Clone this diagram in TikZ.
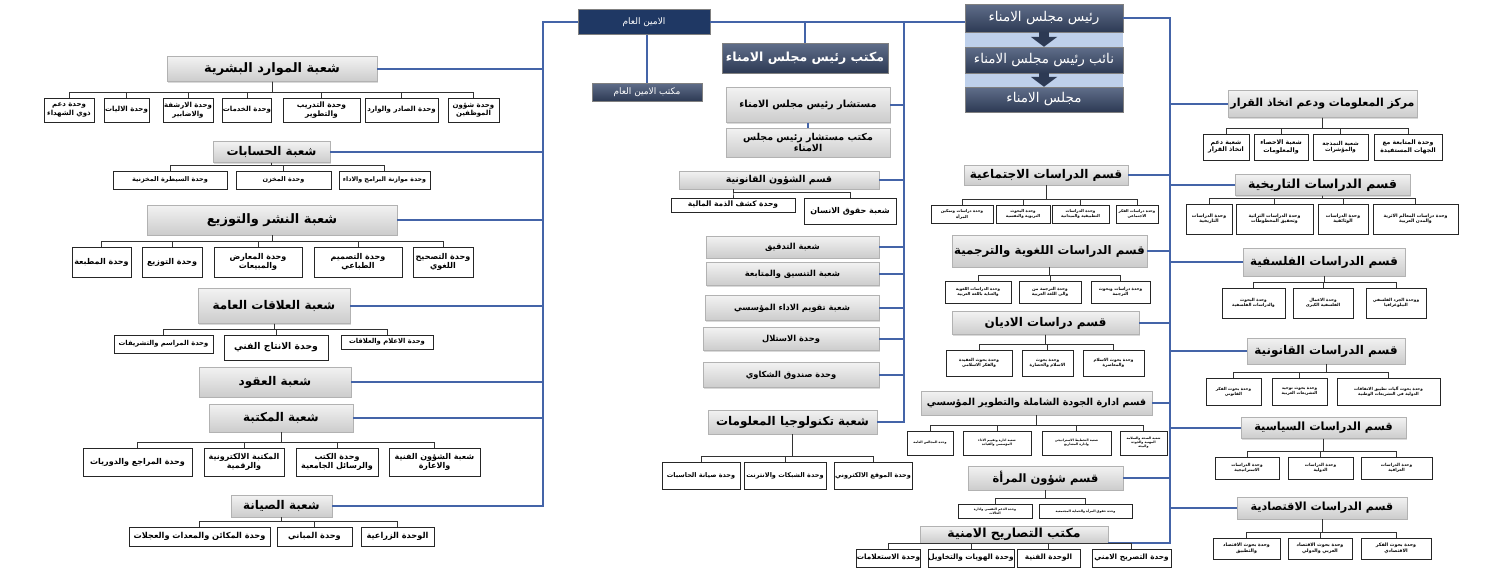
\documentclass[tikz,border=0pt]{standalone}
\usepackage{fontspec}
\usepackage{tikz}
\usetikzlibrary{arrows.meta,shadows}
\newfontfamily\arabicfont[Script=Arabic]{DejaVu Sans}
\TeXXeTstate=1
\newcommand{\rl}[1]{\beginR#1\endR}
\newcommand{\fz}[1]{\fontsize{#1}{\dimexpr#1pt*6/5\relax}\selectfont}
\definecolor{aminnavy}{RGB}{31,56,100}
\definecolor{slatetop}{RGB}{96,110,138}
\definecolor{slatebot}{RGB}{45,58,84}
\definecolor{stackbg}{RGB}{190,208,235}
\definecolor{linkblue}{RGB}{68,100,168}

\begin{document}
\begin{tikzpicture}[x=1pt,y=-1pt,
  hdr/.style={draw=gray!60,top color=gray!10,bottom color=gray!40,inner sep=0.5pt,align=center,
    drop shadow={opacity=0.3,shadow xshift=1.2pt,shadow yshift=-1.2pt}},
  unit/.style={draw=black!85,fill=white,line width=0.5pt,inner sep=0.5pt,align=center},
  dark/.style={draw=black!50,top color=slatetop,bottom color=slatebot,text=white,inner sep=0.5pt,align=center},
  sz/.style 2 args={minimum width=#1pt,minimum height=#2pt},
  fb/.style={font=\arabicfont\bfseries\fz{#1}},
  fn/.style={font=\arabicfont\fz{#1}},
  link/.style={draw=linkblue,line width=2pt},
  tree/.style={draw=black!80,line width=0.6pt},
  branch/.style={to path={|- ([yshift=5pt]\tikztotarget) -- (\tikztotarget) \tikztonodes}},
  pushdown/.style={draw=slatebot,line width=10pt,-{Triangle[length=10pt,width=26pt]}}]
\useasboundingbox (0,0) rectangle (1500,576);

\fill[stackbg] (965,4) rectangle (1123,112);

\node[draw=black!50,fill=aminnavy,text=white,fn=9,sz={132}{25}] (amin) at (644,22) {\rl{الامين العام}};
\node[dark,fn=9,sz={110}{18}] (aminoff) at (647,92) {\rl{مكتب الامين العام}};
\node[dark,fb=12.5,sz={166}{30}] (chairoff) at (805,58) {\rl{مكتب رئيس مجلس الامناء}};
\node[dark,fn=13.5,sz={158}{28}] (chair) at (1044,18) {\rl{رئيس مجلس الامناء}};
\node[dark,fn=13.5,sz={158}{26}] (deputy) at (1044,60) {\rl{نائب رئيس مجلس الامناء}};
\node[dark,fn=13.5,sz={158}{25}] (board) at (1044,99.5) {\rl{مجلس الامناء}};
\draw[pushdown] (chair.south) -- (deputy.north);
\draw[pushdown] (deputy.south) -- (board.north);

\node[hdr,fb=9.8,sz={164}{35}] (adv) at (808,105) {\rl{مستشار رئيس مجلس الامناء}};
\node[hdr,fb=9.5,sz={164}{29}] (advoff) at (808,142.5) {\rl{مكتب مستشار رئيس مجلس}\\\rl{الامناء}};
\node[hdr,fb=9.5,sz={200}{18}] (legal) at (779,180) {\rl{قسم الشؤون القانونية}};
\node[unit,fb=7.5,sz={124}{14}] (assets) at (733,205) {\rl{وحدة كشف الذمة المالية}};
\node[unit,fb=8,sz={92}{26}] (rights) at (850,211) {\rl{شعبة حقوق الانسان}};
\node[hdr,fb=8.3,sz={173}{22}] (audit) at (792.5,247) {\rl{شعبة التدقيق}};
\node[hdr,fb=8.3,sz={173}{23}] (coord) at (792.5,274) {\rl{شعبة التنسيق والمتابعة}};
\node[hdr,fb=8.3,sz={174}{25}] (perf) at (792,308) {\rl{شعبة تقويم الاداء المؤسسي}};
\node[hdr,fb=8.3,sz={176}{23}] (plag) at (791,339) {\rl{وحدة الاستلال}};
\node[hdr,fb=8.3,sz={176}{25}] (compl) at (791,375) {\rl{وحدة صندوق الشكاوي}};
\node[hdr,fb=12,sz={169}{24}] (it) at (792.5,422) {\rl{شعبة تكنولوجيا المعلومات}};
\node[unit,fb=6.5,sz={78}{27}] (ita) at (701,475.5) {\rl{وحدة صيانة الحاسبات}};
\node[unit,fb=6.5,sz={82}{27}] (itb) at (785,475.5) {\rl{وحدة الشبكات والانترنت}};
\node[unit,fb=6.5,sz={78}{27}] (itc) at (873,475.5) {\rl{وحدة الموقع الالكتروني}};

\node[hdr,fb=13,sz={210}{25}] (hr) at (272,69) {\rl{شعبة الموارد البشرية}};
\node[unit,fb=7,sz={50}{24}] (hra) at (69,110) {\rl{وحدة دعم}\\\rl{ذوي الشهداء}};
\node[unit,fb=7,sz={45}{24}] (hrb) at (126.5,110) {\rl{وحدة الاليات}};
\node[unit,fb=7,sz={50}{24}] (hrc) at (188,110) {\rl{وحدة الارشفة}\\\rl{والاضابير}};
\node[unit,fb=7,sz={48}{24}] (hrd) at (247,110) {\rl{وحدة الخدمات}};
\node[unit,fb=7.5,sz={77}{24}] (hre) at (321.5,110) {\rl{وحدة التدريب}\\\rl{والتطوير}};
\node[unit,fb=7,sz={73}{24}] (hrf) at (401.5,110) {\rl{وحدة الصادر والوارد}};
\node[unit,fb=7,sz={51}{24}] (hrg) at (473.5,110) {\rl{وحدة شؤون}\\\rl{الموظفين}};

\node[hdr,fb=12,sz={117}{21}] (acc) at (271.5,152) {\rl{شعبة الحسابات}};
\node[unit,fb=6.5,sz={114}{18}] (acca) at (170,180) {\rl{وحدة السيطرة المخزنية}};
\node[unit,fb=6.5,sz={95}{18}] (accb) at (283.5,180) {\rl{وحدة المخزن}};
\node[unit,fb=6.3,sz={91}{18}] (accc) at (384.5,180) {\rl{وحدة موازنة البرامج والاداء}};

\node[hdr,fb=13,sz={250}{30}] (pub) at (272,220) {\rl{شعبة النشر والتوزيع}};
\node[unit,fb=8,sz={59}{30}] (puba) at (101.5,262) {\rl{وحدة المطبعة}};
\node[unit,fb=8,sz={60}{30}] (pubb) at (172,262) {\rl{وحدة التوزيع}};
\node[unit,fb=8,sz={88}{30}] (pubc) at (258,262) {\rl{وحدة المعارض}\\\rl{والمبيعات}};
\node[unit,fb=8,sz={88}{30}] (pubd) at (358,262) {\rl{وحدة التصميم}\\\rl{الطباعي}};
\node[unit,fb=8,sz={60}{30}] (pube) at (443,262) {\rl{وحدة التصحيح}\\\rl{اللغوي}};

\node[hdr,fb=12,sz={152}{35}] (pr) at (274,306) {\rl{شعبة العلاقات العامة}};
\node[unit,fb=6.8,sz={99}{18}] (pra) at (163.5,344) {\rl{وحدة المراسم والتشريفات}};
\node[unit,fb=9.3,sz={104}{25}] (prb) at (276,347.5) {\rl{وحدة الانتاج الفني}};
\node[unit,fb=6.8,sz={92}{14}] (prc) at (387,342) {\rl{وحدة الاعلام والعلاقات}};

\node[hdr,fb=12,sz={152}{30}] (contr) at (275,382) {\rl{شعبة العقود}};
\node[hdr,fb=12,sz={144}{28}] (lib) at (281,418) {\rl{شعبة المكتبة}};
\node[unit,fb=8,sz={109}{28}] (liba) at (137.5,462) {\rl{وحدة المراجع والدوريات}};
\node[unit,fb=8,sz={80}{28}] (libb) at (244,462) {\rl{المكتبة الالكترونية}\\\rl{والرقمية}};
\node[unit,fb=8,sz={82}{28}] (libc) at (337,462) {\rl{وحدة الكتب}\\\rl{والرسائل الجامعية}};
\node[unit,fb=8,sz={91}{28}] (libd) at (434.5,462) {\rl{شعبة الشؤون الفنية}\\\rl{والاعارة}};

\node[hdr,fb=12,sz={101}{22}] (maint) at (281.5,506) {\rl{شعبة الصيانة}};
\node[unit,fb=8.2,sz={141}{19}] (mnta) at (199.5,536.5) {\rl{وحدة المكائن والمعدات والعجلات}};
\node[unit,fb=8.2,sz={75}{19}] (mntb) at (314.5,536.5) {\rl{وحدة المباني}};
\node[unit,fb=8.2,sz={73}{19}] (mntc) at (397.5,536.5) {\rl{الوحدة الزراعية}};

\node[hdr,fb=12,sz={164}{20}] (soc) at (1046,175) {\rl{قسم الدراسات الاجتماعية}};
\node[unit,fb=4,sz={62}{18}] (soca) at (962,214) {\rl{وحدة دراسات وتمكين}\\\rl{المرأة}};
\node[unit,fb=4,sz={54}{18}] (socb) at (1023,214) {\rl{وحدة البحوث}\\\rl{التربوية والنفسية}};
\node[unit,fb=4,sz={57}{18}] (socc) at (1080.5,214) {\rl{وحدة الدراسات}\\\rl{التطبيقية والميدانية}};
\node[unit,fb=3.8,sz={42}{18}] (socd) at (1137,214) {\rl{وحدة دراسات الفكر}\\\rl{الاجتماعي}};

\node[hdr,fb=11.8,sz={195}{32}] (ling) at (1049.5,251) {\rl{قسم الدراسات اللغوية والترجمية}};
\node[unit,fb=4,sz={66}{22}] (linga) at (978,292) {\rl{وحدة الدراسات اللغوية}\\\rl{والعناية باللغة العربية}};
\node[unit,fb=4.2,sz={62}{22}] (lingb) at (1050,292) {\rl{وحدة الترجمة من}\\\rl{والى اللغة العربية}};
\node[unit,fb=4.2,sz={59}{22}] (lingc) at (1120.5,292) {\rl{وحدة دراسات وبحوث}\\\rl{الترجمة}};

\node[hdr,fb=12,sz={187}{23}] (relig) at (1045.5,323) {\rl{قسم دراسات الاديان}};
\node[unit,fb=4.2,sz={66}{26}] (religa) at (979,363) {\rl{وحدة بحوث العقيدة}\\\rl{والفكر الاسلامي}};
\node[unit,fb=4.2,sz={51}{26}] (religb) at (1047.5,363) {\rl{وحدة بحوث}\\\rl{الاسلام والحضارة}};
\node[unit,fb=4.2,sz={61}{26}] (religc) at (1113.5,363) {\rl{وحدة بحوث الاسلام}\\\rl{والمعاصرة}};

\node[hdr,fb=9.6,sz={231}{24}] (qual) at (1036.5,403) {\rl{قسم ادارة الجودة الشاملة والتطوير المؤسسي}};
\node[unit,fb=3.2,sz={46}{24}] (quala) at (930,443) {\rl{وحدة المجالس العامة}};
\node[unit,fb=3.2,sz={68}{24}] (qualb) at (997,443) {\rl{شعبة ادارة وتقييم الاداء}\\\rl{المؤسسي والقيادة}};
\node[unit,fb=3.2,sz={69}{24}] (qualc) at (1076.5,443) {\rl{شعبة التخطيط الاستراتيجي}\\\rl{وادارة المشاريع}};
\node[unit,fb=3.2,sz={47}{24}] (quald) at (1143.5,443) {\rl{شعبة الصحة والسلامة}\\\rl{المهنية والجودة}\\\rl{والبيئة}};

\node[hdr,fb=11.5,sz={155}{24}] (women) at (1045.5,478) {\rl{قسم شؤون المرأة}};
\node[unit,fb=3.2,sz={74}{14}] (womena) at (995,511) {\rl{وحدة الدعم النفسي وادارة}\\\rl{الحالات}};
\node[unit,fb=3.2,sz={93}{14}] (womenb) at (1085.5,511) {\rl{وحدة حقوق المرأة والحماية المجتمعية}};

\node[hdr,fb=12.5,sz={188}{17}] (sec) at (1014,534.5) {\rl{مكتب التصاريح الامنية}};
\node[unit,fb=7.3,sz={63}{18}] (seca) at (888.5,558) {\rl{وحدة الاستعلامات}};
\node[unit,fb=7.3,sz={80}{18}] (secb) at (971,558) {\rl{وحدة الهويات والتخاويل}};
\node[unit,fb=7.3,sz={63}{18}] (secc) at (1048.5,558) {\rl{الوحدة الفنية}};
\node[unit,fb=7.3,sz={79}{18}] (secd) at (1131.5,558) {\rl{وحدة التصريح الامني}};

\node[hdr,fb=11,sz={189}{27}] (info) at (1322.5,104) {\rl{مركز المعلومات ودعم اتخاذ القرار}};
\node[unit,fb=6.3,sz={46}{26}] (infoa) at (1226,147) {\rl{شعبة دعم}\\\rl{اتخاذ القرار}};
\node[unit,fb=6.3,sz={54}{26}] (infob) at (1281,147) {\rl{شعبة الاحصاء}\\\rl{والمعلومات}};
\node[unit,fb=5.5,sz={55}{26}] (infoc) at (1340.5,147) {\rl{شعبة النمذجة}\\\rl{والمؤشرات}};
\node[unit,fb=6.2,sz={68}{26}] (infod) at (1408,147) {\rl{وحدة المتابعة مع}\\\rl{الجهات المستفيدة}};

\node[hdr,fb=12.5,sz={175}{21}] (hist) at (1322.5,185) {\rl{قسم الدراسات التاريخية}};
\node[unit,fb=4.6,sz={46}{30}] (hista) at (1209,219) {\rl{وحدة الدراسات}\\\rl{التاريخية}};
\node[unit,fb=4.6,sz={77}{30}] (histb) at (1274.5,219) {\rl{وحدة الدراسات التراثية}\\\rl{وتحقيق المخطوطات}};
\node[unit,fb=4.6,sz={50}{30}] (histc) at (1343,219) {\rl{وحدة الدراسات}\\\rl{الوثائقية}};
\node[unit,fb=4.6,sz={85}{30}] (histd) at (1415.5,219) {\rl{وحدة دراسات المعالم الاثرية}\\\rl{والمدن العربية}};

\node[hdr,fb=12,sz={162}{28}] (phil) at (1324,262) {\rl{قسم الدراسات الفلسفية}};
\node[unit,fb=4.2,sz={63}{30}] (phila) at (1253.5,303) {\rl{وحدة البحوث}\\\rl{والدراسات الفلسفية}};
\node[unit,fb=4.2,sz={60}{30}] (philb) at (1323,303) {\rl{وحدة الاعمال}\\\rl{الفلسفية الكبرى}};
\node[unit,fb=4.2,sz={60}{30}] (philc) at (1396,303) {\rl{ووحدة الجرد الفلسفي}\\\rl{الببلوغرافيا}};

\node[hdr,fb=12,sz={158}{26}] (law) at (1326,351) {\rl{قسم الدراسات القانونية}};
\node[unit,fb=4.1,sz={55}{27}] (lawa) at (1233.5,391.5) {\rl{وحدة بحوث الفكر}\\\rl{القانوني}};
\node[unit,fb=4.1,sz={55}{27}] (lawb) at (1299.5,391.5) {\rl{وحدة بحوث توحيد}\\\rl{التشريعات العربية}};
\node[unit,fb=4.1,sz={103}{27}] (lawc) at (1388.5,391.5) {\rl{وحدة بحوث آليات تطبيق الاتفاقات}\\\rl{الدولية في التشريعات الوطنية}};

\node[hdr,fb=11.3,sz={165}{21}] (pol) at (1323.5,428) {\rl{قسم الدراسات السياسية}};
\node[unit,fb=4.2,sz={64}{22}] (pola) at (1247,468) {\rl{وحدة الدراسات}\\\rl{الاستراتيجية}};
\node[unit,fb=4.2,sz={65}{22}] (polb) at (1320.5,468) {\rl{وحدة الدراسات}\\\rl{الدولية}};
\node[unit,fb=4.2,sz={71}{22}] (polc) at (1396.5,468) {\rl{وحدة الدراسات}\\\rl{العراقية}};

\node[hdr,fb=11.2,sz={170}{22}] (econ) at (1322,508) {\rl{قسم الدراسات الاقتصادية}};
\node[unit,fb=4.7,sz={67}{21}] (econa) at (1246.5,548.5) {\rl{وحدة بحوث الاقتصاد}\\\rl{والتطبيق}};
\node[unit,fb=4.7,sz={64}{21}] (econb) at (1320,548.5) {\rl{وحدة بحوث الاقتصاد}\\\rl{العربي والدولي}};
\node[unit,fb=4.7,sz={70}{21}] (econc) at (1396,548.5) {\rl{وحدة بحوث الفكر}\\\rl{الاقتصادي}};

\coordinate (lv) at (543,0);
\coordinate (cv) at (904,0);
\coordinate (rv) at (1170,0);

\draw[link] (amin.west) -| (lv |- maint.east) -- (maint.east);
\draw[link] (hr.east) -- (hr.east -| lv);
\draw[link] (acc.east) -- (acc.east -| lv);
\draw[link] (pub.east) -- (pub.east -| lv);
\draw[link] (pr.east) -- (pr.east -| lv);
\draw[link] (contr.east) -- (contr.east -| lv);
\draw[link] (lib.east) -- (lib.east -| lv);
\draw[link] (aminoff.north |- amin.south) -- (aminoff.north);
\draw[link] (amin.east) -- (amin.east -| chair.west);
\draw[link] (chairoff.north |- amin.east) -- (chairoff.north);
\draw[link] (cv |- amin.east) |- (it.east);
\draw[link] (adv.east) -- (adv.east -| cv);
\draw[link] (legal.east) -- (legal.east -| cv);
\draw[link] (audit.east) -- (audit.east -| cv);
\draw[link] (coord.east) -- (coord.east -| cv);
\draw[link] (perf.east) -- (perf.east -| cv);
\draw[link] (plag.east) -- (plag.east -| cv);
\draw[link] (compl.east) -- (compl.east -| cv);
\draw[link] (adv.south) -- (advoff.north);
\draw[link] (chair.east) -| (rv |- sec.south east) -- (sec.south east);
\draw[link] (soc.east) -- (soc.east -| rv);
\draw[link] (ling.east) -- (ling.east -| rv);
\draw[link] (relig.east) -- (relig.east -| rv);
\draw[link] (qual.east) -- (qual.east -| rv);
\draw[link] (women.east) -- (women.east -| rv);
\draw[link] (rv |- info.west) -- (info.west);
\draw[link] (rv |- hist.west) -- (hist.west);
\draw[link] (rv |- phil.west) -- (phil.west);
\draw[link] (rv |- law.west) -- (law.west);
\draw[link] (rv |- pol.west) -- (pol.west);
\draw[link] (rv |- econ.west) -- (econ.west);

\path[tree] (hr.south) edge[branch] (hra.north) edge[branch] (hrb.north) edge[branch] (hrc.north) edge[branch] (hrd.north)
  edge[branch] (hre.north) edge[branch] (hrf.north) edge[branch] (hrg.north);
\path[tree] (acc.south) edge[branch] (acca.north) edge[branch] (accb.north) edge[branch] (accc.north);
\path[tree] (pub.south) edge[branch] (puba.north) edge[branch] (pubb.north) edge[branch] (pubc.north)
  edge[branch] (pubd.north) edge[branch] (pube.north);
\path[tree] (pr.south) edge[branch] (pra.north) edge[branch] (prb.north) edge[branch] (prc.north);
\path[tree] (lib.south) edge[branch] (liba.north) edge[branch] (libb.north) edge[branch] (libc.north) edge[branch] (libd.north);
\path[tree] (maint.south) edge[branch] (mnta.north) edge[branch] (mntb.north) edge[branch] (mntc.north);
\path[tree] (assets.north |- legal.south) edge[branch] (assets.north) edge[branch] (rights.north);
\path[tree] (it.south) edge[branch] (ita.north) edge[branch] (itb.north) edge[branch] (itc.north);
\path[tree] (soc.south) edge[branch] (soca.north) edge[branch] (socb.north) edge[branch] (socc.north) edge[branch] (socd.north);
\path[tree] (ling.south) edge[branch] (linga.north) edge[branch] (lingb.north) edge[branch] (lingc.north);
\path[tree] (relig.south) edge[branch] (religa.north) edge[branch] (religb.north) edge[branch] (religc.north);
\path[tree] (qual.south) edge[branch] (quala.north) edge[branch] (qualb.north) edge[branch] (qualc.north) edge[branch] (quald.north);
\path[tree] (women.south) edge[branch] (womena.north) edge[branch] (womenb.north);
\path[tree] (sec.south) edge[branch] (seca.north) edge[branch] (secb.north) edge[branch] (secc.north) edge[branch] (secd.north);
\path[tree] (info.south) edge[branch] (infoa.north) edge[branch] (infob.north) edge[branch] (infoc.north) edge[branch] (infod.north);
\path[tree] (hist.south) edge[branch] (hista.north) edge[branch] (histb.north) edge[branch] (histc.north) edge[branch] (histd.north);
\path[tree] (phil.south) edge[branch] (phila.north) edge[branch] (philb.north) edge[branch] (philc.north);
\path[tree] (law.south) edge[branch] (lawa.north) edge[branch] (lawb.north) edge[branch] (lawc.north);
\path[tree] (pol.south) edge[branch] (pola.north) edge[branch] (polb.north) edge[branch] (polc.north);
\path[tree] (econ.south) edge[branch] (econa.north) edge[branch] (econb.north) edge[branch] (econc.north);
\end{tikzpicture}
\end{document}
